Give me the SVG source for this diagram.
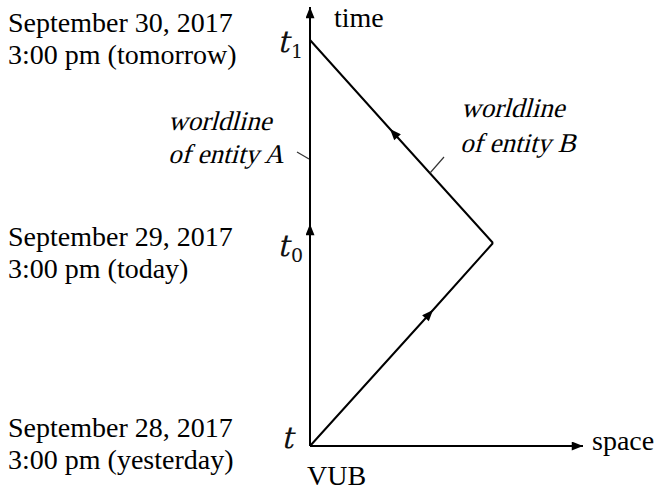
<svg xmlns="http://www.w3.org/2000/svg" width="658" height="490" viewBox="0 0 658 490">
<style>
.lbl{font-family:"Liberation Serif","Times New Roman",serif;font-size:28px;fill:#000}
.it{font-family:"Liberation Serif","Times New Roman",serif;font-size:27px;fill:#000}
.tm{font-family:"DejaVu Serif","Liberation Serif",serif;font-size:30px;fill:#111}
.sub{font-family:"DejaVu Serif","Liberation Serif",serif;font-size:19px;fill:#111}
.ln{stroke:#000;stroke-width:2;fill:none}
.tk{stroke:#333;stroke-width:1.2;fill:none}
</style>
<defs>
<marker id="ah" viewBox="0 0 10 8" refX="10" refY="4" markerUnits="userSpaceOnUse" markerWidth="12" markerHeight="9" orient="auto">
<path d="M0,0 L10,4 L0,8 z" fill="#000"/>
</marker>
</defs>
<rect width="658" height="490" fill="#fff"/>
<g id="connectors">
<path id="time-axis" class="ln" d="M310,446 L310,224 L310,7" marker-mid="url(#ah)" marker-end="url(#ah)"/>
<path id="space-axis" class="ln" d="M310,446 L583,446" marker-end="url(#ah)"/>
<path id="worldline-b-out" class="ln" d="M310,446 L433,310 L493,243" marker-mid="url(#ah)"/>
<path id="worldline-b-back" class="ln" d="M493,243 L390,129 L310,40" marker-mid="url(#ah)"/>
<line class="tk" x1="297" y1="152" x2="309" y2="159"/>
<line class="tk" x1="430" y1="173" x2="444" y2="157"/>
</g>
<g id="label-time"><text class="lbl" x="334" y="27">time</text></g>
<g id="label-space"><text class="lbl" x="592" y="450">space</text></g>
<g id="label-vub"><text class="lbl" x="307" y="485">VUB</text></g>
<g id="t1"><text class="tm" transform="translate(277,52) skewX(-14)">t</text><text class="sub" x="291" y="58">1</text></g>
<g id="t0"><text class="tm" transform="translate(277,256) skewX(-14)">t</text><text class="sub" x="291" y="262">0</text></g>
<g id="t"><text class="tm" transform="translate(281,448) skewX(-14)">t</text></g>
<g id="date-tomorrow"><text class="lbl" x="8" y="32">September 30, 2017</text><text class="lbl" x="8" y="64">3:00 pm (tomorrow)</text></g>
<g id="date-today"><text class="lbl" x="8" y="246">September 29, 2017</text><text class="lbl" x="8" y="278">3:00 pm (today)</text></g>
<g id="date-yesterday"><text class="lbl" x="8" y="437">September 28, 2017</text><text class="lbl" x="8" y="469">3:00 pm (yesterday)</text></g>
<g id="worldline-a-label"><text class="it" transform="translate(168,130) skewX(-15)">worldline</text><text class="it" transform="translate(168,163) skewX(-15)">of entity A</text></g>
<g id="worldline-b-label"><text class="it" transform="translate(461,117) skewX(-15)">worldline</text><text class="it" transform="translate(460,152) skewX(-15)">of entity B</text></g>
</svg>
